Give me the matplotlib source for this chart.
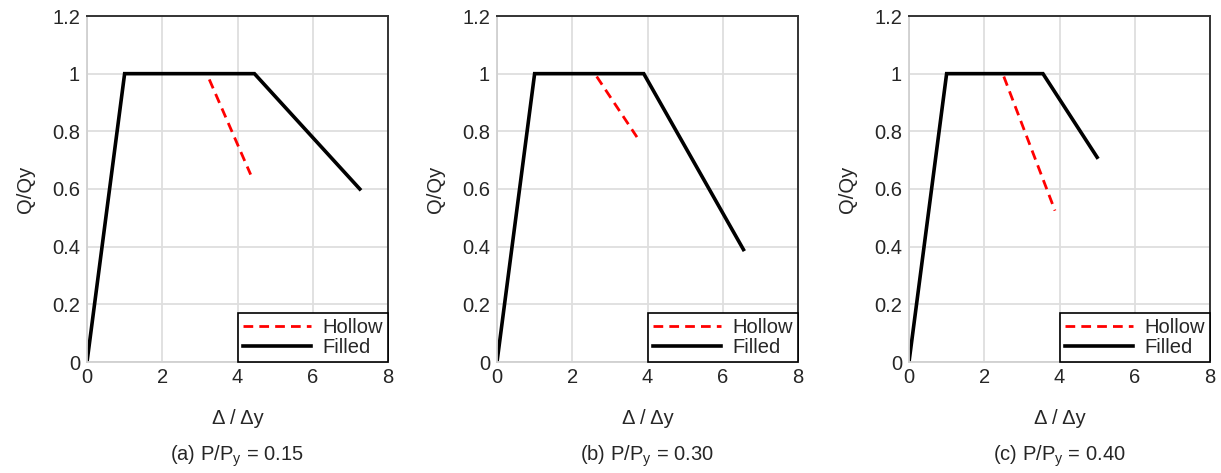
import matplotlib.pyplot as plt

plt.rcParams['font.family'] = ['Liberation Sans', 'DejaVu Sans']

# data (drift ratio, normalised shear)
filled_x = [[0, 1.0, 4.45, 7.25], [0, 1.0, 3.9, 6.55], [0, 1.0, 3.56, 5.0]]
filled_y = [[0, 1.0, 1.0, 0.60], [0, 1.0, 1.0, 0.39], [0, 1.0, 1.0, 0.71]]
hollow_x = [[3.25, 4.35], [2.65, 3.72], [2.52, 3.88]]
hollow_y = [[0.98, 0.65], [0.99, 0.78], [0.99, 0.525]]
captions = ['(a) P/P$_\\mathregular{y}$ = 0.15',
            '(b) P/P$_\\mathregular{y}$ = 0.30',
            '(c) P/P$_\\mathregular{y}$ = 0.40']

W, H = 1221, 473
fs = 14.5
txt = '#262626'
fig = plt.figure(figsize=(W / 100, H / 100), dpi=100)
lefts = [87, 497, 909]

for i in range(3):
    ax = fig.add_axes([lefts[i] / W, (H - 362) / H, 301 / W, 346 / H])
    ax.plot(hollow_x[i], hollow_y[i], color='#ff0000', lw=2.0,
            dashes=(3.5, 2.2), label='Hollow')
    ax.plot(filled_x[i], filled_y[i], color='black', lw=2.6,
            solid_joinstyle='miter', label='Filled')
    ax.set_xlim(0, 8)
    ax.set_ylim(0, 1.2)
    ax.set_xticks([0, 2, 4, 6, 8])
    ax.set_yticks([0, 0.2, 0.4, 0.6, 0.8, 1.0, 1.2])
    ax.set_yticklabels(['0', '0.2', '0.4', '0.6', '0.8', '1', '1.2'])
    ax.grid(True, color='#dedede', lw=1.3)
    ax.set_axisbelow(True)
    ax.tick_params(length=0, labelsize=fs, labelcolor=txt)
    ax.tick_params(axis='y', pad=5)
    ax.tick_params(axis='x', pad=4)
    for s in ['left', 'bottom']:
        ax.spines[s].set_color('#d0d0d0')
        ax.spines[s].set_linewidth(1.3)
    for s in ['top', 'right']:
        ax.spines[s].set_color('#333333')
        ax.spines[s].set_linewidth(1.4)
    ax.set_ylabel('Q/Qy', fontsize=fs, color=txt, labelpad=12)
    ax.set_xlabel('\u0394 / \u0394y', fontsize=fs, color=txt, labelpad=16)
    leg = ax.legend(loc='lower right', borderaxespad=0, fontsize=fs,
                    handlelength=3.4, handletextpad=0.55, fancybox=False,
                    framealpha=1, borderpad=0.25, labelspacing=0.05)
    leg.get_frame().set_edgecolor('black')
    leg.get_frame().set_linewidth(1.2)
    for t in leg.get_texts():
        t.set_color(txt)
    cx = (lefts[i] + 150) / W
    fig.text(cx, 1 - 456 / H, captions[i], ha='center', va='center',
             fontsize=fs, color=txt)

fig.savefig('out.png', dpi=100)
